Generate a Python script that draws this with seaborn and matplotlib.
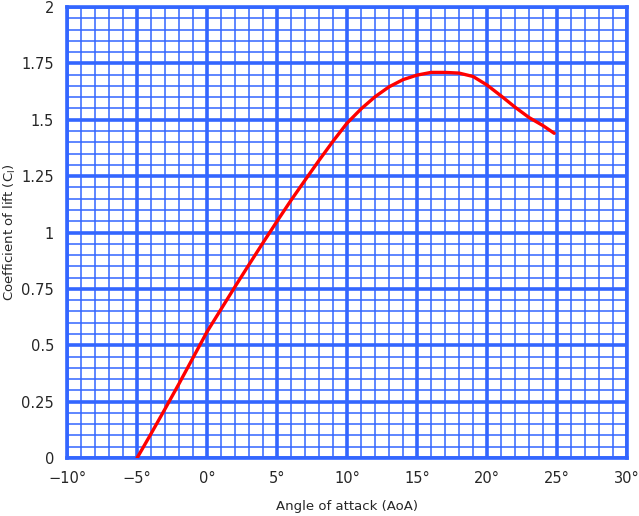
import pandas as pd
import seaborn as sns
import matplotlib.pyplot as plt
from matplotlib.ticker import MultipleLocator, FuncFormatter

# lift curve
aoa = [-5, -4, -3, -2, -1, 0, 1, 2, 3, 4, 5, 6, 7, 8, 9, 10,
       11, 12, 13, 14, 15, 16, 17, 18, 19, 20, 21, 22, 23, 24, 24.8]
cl = [0.0, 0.108, 0.218, 0.33, 0.445, 0.56, 0.66, 0.76, 0.858, 0.955, 1.05,
      1.143, 1.232, 1.32, 1.405, 1.485, 1.548, 1.602, 1.646, 1.678, 1.698,
      1.71, 1.71, 1.707, 1.692, 1.654, 1.606, 1.556, 1.51, 1.474, 1.44]

df = pd.DataFrame({"AoA": aoa, "Cl": cl})

sns.set_style("white")
plt.rcParams['font.family'] = ['DejaVu Sans']

blue = "#3366ff"
fig = plt.figure(figsize=(6.39, 5.16), dpi=100)
ax = fig.add_axes([0.105, 0.1124, 0.8762, 0.874])

sns.lineplot(data=df, x="AoA", y="Cl", color="red", linewidth=2.4, ax=ax, zorder=5)

ax.set_xlim(-10, 30)
ax.set_ylim(0, 2)
ax.xaxis.set_major_locator(MultipleLocator(5))
ax.xaxis.set_minor_locator(MultipleLocator(1))
ax.yaxis.set_major_locator(MultipleLocator(0.25))
ax.yaxis.set_minor_locator(MultipleLocator(0.05))
ax.xaxis.set_major_formatter(FuncFormatter(lambda v, p: f"{v:g}°".replace("-", "\u2212")))
ax.yaxis.set_major_formatter(FuncFormatter(lambda v, p: f"{v:g}"))

ax.grid(which="major", color=blue, linewidth=2.6)
ax.grid(which="minor", color=blue, linewidth=1.1)
ax.set_axisbelow(True)
for s in ax.spines.values():
    s.set_color(blue)
    s.set_linewidth(2.6)

ax.tick_params(which="major", direction="out", length=3.5, width=2.6, color=blue,
               labelsize=10.5, pad=6)
ax.tick_params(which="minor", length=0)

ax.set_xlabel("Angle of attack (AoA)", fontsize=9.5, labelpad=10)
ax.set_ylabel("Coefficient of lift (C$_\\mathregular{l}$)", fontsize=9.5, labelpad=2)

fig.savefig("out.png", dpi=100)
